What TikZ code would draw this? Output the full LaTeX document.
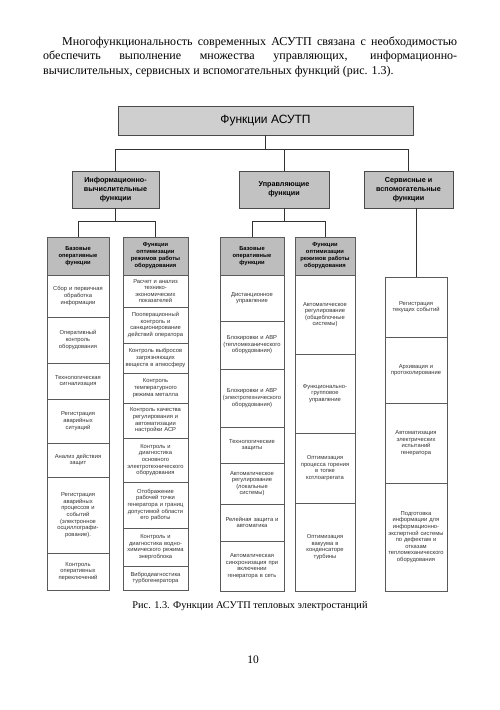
\documentclass[tikz,border=0pt]{standalone}
\usepackage{fontspec}
\setmainfont{Liberation Serif}
\newfontfamily\dsans{Liberation Sans}
\definecolor{boxline}{HTML}{4A4A4A}
\definecolor{cellline}{HTML}{5A5A5A}
\definecolor{celltext}{HTML}{333333}
\definecolor{topfill}{HTML}{CFCFCF}
\definecolor{midfill}{HTML}{C2C2C2}
\definecolor{headfill}{HTML}{BDBDBD}
\definecolor{wire}{HTML}{333333}
\newcommand\cellfont{\dsans\fontsize{5.8}{6.6}\selectfont}
\newcommand\headfont{\dsans\bfseries\fontsize{5.8}{7}\selectfont}
\tikzset{
  topbox/.style={draw=boxline, line width=0.8pt, fill=topfill, minimum width=295pt, minimum height=29pt, font=\dsans\fontsize{12}{14}\selectfont},
  midbox/.style={draw=boxline, line width=0.8pt, fill=midfill, minimum height=37pt, align=center, inner sep=0pt, font=\dsans\bfseries\fontsize{7.2}{9}\selectfont},
  cell/.style={draw=cellline, line width=0.5pt, fill=white, align=center, inner xsep=1pt, inner ysep=0pt, font=\cellfont, text=celltext},
  headcell/.style={cell, fill=headfill, font=\headfont, text=black, minimum height=38pt},
  colA/.style={text width=60pt},
  colB/.style={text width=63pt},
  colC/.style={text width=62pt},
  colD/.style={text width=58pt},
  colE/.style={text width=60pt},
  wirestyle/.style={draw=wire, line width=0.8pt},
  bodytext/.style={inner sep=0pt, font=\fontsize{12}{14.5}\selectfont}
}
\begin{document}
\begin{tikzpicture}[x=1pt,y=-1pt]
\useasboundingbox[fill=white] (0,0) rectangle (500,710);
% paragraph
\node[bodytext, anchor=base west] (p1) at (62,45) {\makebox[395pt][s]{Многофункциональность современных АСУТП связана с необходимостью}};
\node[bodytext, anchor=base west] (p2) at (43,59.5) {\makebox[414pt][s]{обеспечить выполнение множества управляющих, информационно-}};
\node[bodytext, anchor=base west] (p3) at (43,74) {вычислительных, сервисных и вспомогательных функций (рис. 1.3).};
% top
\node[topbox] (top) at (265.5,120.5) {Функции АСУТП};
% level 2
\node[midbox, minimum width=87pt] (info) at (115.5,189.5) {Информационно-\\вычислительные\\функции};
\node[midbox, minimum width=90pt] (ctrl) at (284,189.5) {Управляющие\\функции};
\node[midbox, minimum width=89pt] (serv) at (408.5,189.5) {Сервисные и\\вспомогательные\\функции};
% column 1
\node[headcell, colA] (a0) at (78,256) {Базовые\\оперативные\\функции};
\node[cell, colA, minimum height=42pt] (a1) at (78,296) {Сбор и первичная\\обработка\\информации};
\node[cell, colA, minimum height=46pt] (a2) at (78,340) {Оперативный\\контроль\\оборудования};
\node[cell, colA, minimum height=36pt] (a3) at (78,381) {Технологическая\\сигнализация};
\node[cell, colA, minimum height=44pt] (a4) at (78,421) {Регистрация\\аварийных\\ситуаций};
\node[cell, colA, minimum height=34pt] (a5) at (78,460) {Анализ действия\\защит};
\node[cell, colA, minimum height=76pt] (a6) at (78,515) {Регистрация\\аварийных\\процессов и\\событий\\(электронное\\осциллографи-\\рование).};
\node[cell, colA, minimum height=37pt] (a7) at (78,571.5) {Контроль\\оперативных\\переключений};
% column 2
\node[headcell, colB] (b0) at (155.5,256) {Функции\\оптимизации\\режимов работы\\оборудования};
\node[cell, colB, minimum height=32pt] (b1) at (155.5,291) {Расчет и анализ\\технико-\\экономических\\показателей};
\node[cell, colB, minimum height=36pt] (b2) at (155.5,325) {Пооперационный\\контроль и\\санкционирование\\действий оператора};
\node[cell, colB, minimum height=30pt] (b3) at (155.5,358) {Контроль выбросов\\загрязняющих\\веществ в атмосферу};
\node[cell, colB, minimum height=30pt] (b4) at (155.5,388) {Контроль\\температурного\\режима металла};
\node[cell, colB, minimum height=35pt] (b5) at (155.5,420.5) {Контроль качества\\регулирования и\\автоматизации\\настройки АСР};
\node[cell, colB, minimum height=44pt] (b6) at (155.5,460) {Контроль и\\диагностика\\основного\\электротехнического\\оборудования};
\node[cell, colB, minimum height=46pt] (b7) at (155.5,505) {Отображение\\рабочей точки\\генератора и границ\\допустимой области\\его работы};
\node[cell, colB, minimum height=38pt] (b8) at (155.5,547) {Контроль и\\диагностика водно-\\химического режима\\энергоблока};
\node[cell, colB, minimum height=24pt] (b9) at (155.5,578) {Вибродиагностика\\турбогенератора};
% column 3
\node[headcell, colC] (c0) at (252,256) {Базовые\\оперативные\\функции};
\node[cell, colC, minimum height=46pt] (c1) at (252,298) {Дистанционное\\управление};
\node[cell, colC, minimum height=48pt] (c2) at (252,345) {Блокировки и АВР\\(тепломеханического\\оборудования)};
\node[cell, colC, minimum height=58pt] (c3) at (252,398) {Блокировки и АВР\\(электротехнического\\оборудования)};
\node[cell, colC, minimum height=36pt] (c4) at (252,445) {Технологические\\защиты};
\node[cell, colC, minimum height=41pt] (c5) at (252,483.5) {Автоматическое\\регулирование\\(локальные\\системы)};
\node[cell, colC, minimum height=37pt] (c6) at (252,522.5) {Релейная защита и\\автоматика};
\node[cell, colC, minimum height=50pt] (c7) at (252,566) {Автоматическая\\синхронизация при\\включении\\генератора в сеть};
% column 4
\node[headcell, colD] (d0) at (325,256) {Функции\\оптимизации\\режимов работы\\оборудования};
\node[cell, colD, minimum height=79pt] (d1) at (325,314.5) {Автоматическое\\регулирование\\(общеблочные\\системы)};
\node[cell, colD, minimum height=79pt] (d2) at (325,393.5) {Функционально-\\групповое\\управление};
\node[cell, colD, minimum height=70pt] (d3) at (325,468) {Оптимизация\\процесса горения\\в топке\\котлоагрегата};
\node[cell, colD, minimum height=88pt] (d4) at (325,547) {Оптимизация\\вакуума в\\конденсаторе\\турбины};
% column 5
\node[cell, colE, minimum height=60pt] (e1) at (416,307) {Регистрация\\текущих событий};
\node[cell, colE, minimum height=66pt] (e2) at (416,370) {Архивация и\\протоколирование};
\node[cell, colE, minimum height=80pt] (e3) at (416,443) {Автоматизация\\электрических\\испытаний\\генератора};
\node[cell, colE, minimum height=108pt] (e4) at (416,537) {Подготовка\\информации для\\информационно-\\экспертной системы\\по дефектам и\\отказам\\тепломеханического\\оборудования};
% connectors
\coordinate (busTop) at (0,149);
\coordinate (busInfo) at (0,221);
\coordinate (busCtrl) at (0,221);
\draw[wirestyle] (top.south) -- (top.south |- busTop);
\draw[wirestyle] (info.north) |- (serv.north |- busTop) -- (serv.north);
\draw[wirestyle] (ctrl.north) -- (ctrl.north |- busTop);
\draw[wirestyle] (info.south) -- (info.south |- busInfo);
\draw[wirestyle] (a0.north) |- (b0.north |- busInfo) -- (b0.north);
\draw[wirestyle] (ctrl.south) -- (ctrl.south |- busCtrl);
\draw[wirestyle] (c0.north) |- (d0.north |- busCtrl) -- (d0.north);
\draw[wirestyle] (e1.north |- serv.south) -- (e1.north);
% caption
\node[inner sep=0pt, anchor=base, font=\fontsize{10.3}{12}\selectfont] (cap) at (250,608) {Рис. 1.3. Функции АСУТП тепловых электростанций};
\node[inner sep=0pt, anchor=base, font=\fontsize{11.5}{13}\selectfont] (pg) at (253,663) {10};
\end{tikzpicture}
\end{document}
